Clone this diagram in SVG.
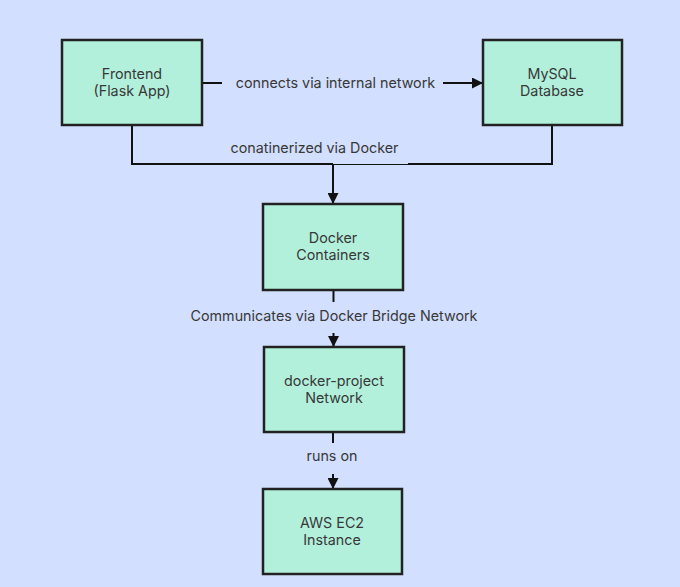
<svg xmlns="http://www.w3.org/2000/svg" width="680" height="587" viewBox="0 0 680 587">
<defs>
<style>
.node rect{fill:#b2f0dc;stroke:#222;stroke-width:2.5}
.node text,.lbl{font-family:Inter,"Liberation Sans",sans-serif;font-size:14.3px;fill:#383838;text-anchor:middle}
.edge{fill:none;stroke:#111;stroke-width:2}
.thin{fill:none;stroke:#111;stroke-width:1}
</style>
<marker id="ah" viewBox="0 0 10 10" refX="10" refY="5" markerWidth="11" markerHeight="11" markerUnits="userSpaceOnUse" orient="auto">
<path d="M0,0 L10,5 L0,10 Z" fill="#111"/>
</marker>
</defs>
<rect width="680" height="587" fill="#d2dffe"/>
<g id="connectors">
<path class="edge" d="M202,83 H222"/>
<path class="edge" d="M443,83 H483" marker-end="url(#ah)"/>
<text class="lbl" x="335.5" y="88">connects via internal network</text>
<path class="edge" d="M132,125 V164 H333"/>
<path class="thin" d="M333,164.5 H408"/>
<path class="edge" d="M552,125 V164 H408"/>
<path class="edge" d="M333,164 V204" marker-end="url(#ah)"/>
<text class="lbl" x="314.5" y="153">conatinerized via Docker</text>
<path class="edge" d="M333.5,290 V302"/>
<path class="edge" d="M333.5,333 V347" marker-end="url(#ah)"/>
<text class="lbl" x="334" y="321">Communicates via Docker Bridge Network</text>
<path class="edge" d="M333,432 V443"/>
<path class="edge" d="M333,474 V489" marker-end="url(#ah)"/>
<text class="lbl" x="332" y="461">runs on</text>
</g>
<g id="frontend" class="node"><rect x="62" y="40" width="140" height="85"/><text x="132" y="79">Frontend</text><text x="132" y="96">(Flask App)</text></g>
<g id="mysql" class="node"><rect x="483" y="40" width="139" height="85"/><text x="552" y="79">MySQL</text><text x="552" y="96">Database</text></g>
<g id="docker" class="node"><rect x="263" y="204" width="140" height="86"/><text x="333" y="243">Docker</text><text x="333" y="260">Containers</text></g>
<g id="network" class="node"><rect x="264" y="347" width="140" height="85"/><text x="334" y="386">docker-project</text><text x="334" y="403">Network</text></g>
<g id="ec2" class="node"><rect x="263" y="489" width="139" height="85"/><text x="332" y="528">AWS EC2</text><text x="332" y="545">Instance</text></g>
</svg>
